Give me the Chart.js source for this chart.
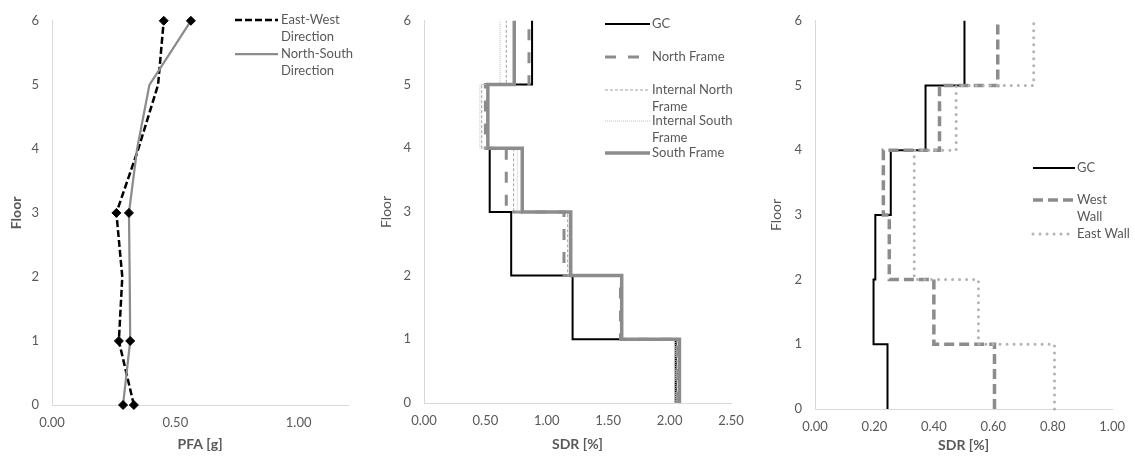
<!DOCTYPE html>
<html>
<head>
<meta charset="utf-8">
<script src="https://cdn.jsdelivr.net/npm/chart.js@4.4.1/dist/chart.umd.min.js"></script>
<style>
  html, body { margin: 0; padding: 0; background: #fff; }
  #wrap { position: relative; width: 1135px; height: 456px; overflow: hidden; background: #fff; }
  canvas { position: absolute; top: 0; }
</style>
</head>
<body>
<div id="wrap">
  <canvas id="c1" width="370" height="456" style="left:0px"></canvas>
  <canvas id="c2" width="390" height="456" style="left:370px"></canvas>
  <canvas id="c3" width="375" height="456" style="left:760px"></canvas>
</div>
<script>
// ---------- DATA ----------
const floors = [0, 1, 2, 3, 4, 5, 6];
const floorTicks = [0, 1, 2, 3, 4, 5, 6];

// Panel 1: peak floor acceleration [g]
const pfaEastWest   = [0.332, 0.271, 0.285, 0.261, 0.35, 0.43, 0.453];
const pfaNorthSouth = [0.288, 0.317, 0.315, 0.312, 0.345, 0.395, 0.563];
const pfaMarkerFloors = [0, 1, 3, 6];
const pfaTicks = [0, 0.5, 1.0];
const pfaLabels = [['East-West', 'Direction'], ['North-South', 'Direction']];

// Panel 2: story drift ratio [%] per story (stories 1..6)
const stories = [1, 2, 3, 4, 5, 6];
const sdrGC            = [2.05, 1.21, 0.71, 0.535, 0.52, 0.88];
const sdrNorthFrame    = [2.06, 1.60, 1.14, 0.67, 0.50, 0.855];
const sdrInternalNorth = [2.06, 1.60, 1.17, 0.73, 0.47, 0.67];
const sdrInternalSouth = [2.05, 1.60, 1.18, 0.76, 0.455, 0.62];
const sdrSouthFrame    = [2.08, 1.61, 1.195, 0.80, 0.52, 0.735];
const sdrTicks = [0, 0.5, 1.0, 1.5, 2.0, 2.5];
const sdrLabels = [['GC'], ['North Frame'], ['Internal North', 'Frame'], ['Internal South', 'Frame'], ['South Frame']];

// Panel 3: story drift ratio [%] walls
const wallGC   = [0.244, 0.197, 0.203, 0.255, 0.372, 0.503];
const wallWest = [0.604, 0.40, 0.25, 0.23, 0.419, 0.615];
const wallEast = [0.806, 0.55, 0.334, 0.334, 0.475, 0.736];
const wallTicks = [0, 0.2, 0.4, 0.6, 0.8, 1.0];
const wallLabels = [['GC'], ['West', 'Wall'], ['East Wall']];

// ---------- HELPERS ----------
const FAMILY = "Lato, 'Open Sans', 'Liberation Sans', sans-serif";
Chart.defaults.font.family = FAMILY;
Chart.defaults.font.size = 13;
Chart.defaults.color = '#595959';

const GRAY_TXT = '#595959';
const AXIS = '#d9d9d9';

function profile(values, ys) {
  return ys.map((y, i) => ({ x: values[i], y: y }));
}
// step profile: each story value spans from floor (s-1) to floor s
function stepProfile(values) {
  const pts = [];
  stories.forEach((s, i) => {
    pts.push({ x: values[i], y: s - 1 });
    pts.push({ x: values[i], y: s });
  });
  return pts;
}

function makeLegend(cfg) {
  return {
    id: 'sideLegend',
    afterDraw(chart) {
      const ctx = chart.ctx;
      ctx.save();
      cfg.items.forEach((it, idx) => {
        const ds = chart.data.datasets[idx];
        ctx.beginPath();
        ctx.strokeStyle = ds.borderColor;
        ctx.lineWidth = ds.borderWidth;
        ctx.setLineDash(ds.borderDash || []);
        ctx.lineCap = ds.borderCapStyle || 'butt';
        ctx.moveTo(cfg.x0, it.y);
        ctx.lineTo(cfg.x1, it.y);
        ctx.stroke();
        ctx.setLineDash([]);
        ctx.fillStyle = GRAY_TXT;
        ctx.font = '13px ' + FAMILY;
        ctx.textBaseline = 'middle';
        ctx.textAlign = 'left';
        it.text.forEach((t, k) => ctx.fillText(t, cfg.tx, it.y + k * cfg.lh));
      });
      ctx.restore();
    }
  };
}

function makeChart(id, datasets, o) {
  return new Chart(document.getElementById(id), {
    type: 'scatter',
    data: { datasets: datasets },
    options: {
      responsive: false,
      animation: false,
      events: [],
      layout: { padding: { left: 0, top: o.top, right: o.right, bottom: 0 } },
      plugins: { legend: { display: false }, tooltip: { enabled: false } },
      scales: {
        x: {
          type: 'linear', min: o.xmin, max: o.xmax,
          afterFit: s => { s.height = 456 - o.bottom; },
          afterBuildTicks: s => { s.ticks = o.xticks.map(v => ({ value: v })); },
          grid: { display: false, drawTicks: false },
          border: { display: true, color: AXIS, width: 1 },
          ticks: { padding: 10, color: GRAY_TXT, font: { size: 13 }, callback: v => Number(v).toFixed(2) },
          title: { display: true, text: o.xtitle, color: GRAY_TXT, font: { size: 14, weight: 'bold' }, padding: { top: 0, bottom: o.xtpad } }
        },
        y: {
          type: 'linear', min: 0, max: 6,
          afterFit: s => { s.width = o.left; },
          afterBuildTicks: s => { s.ticks = floorTicks.map(v => ({ value: v })); },
          grid: { display: false, drawTicks: false },
          border: { display: true, color: AXIS, width: 1 },
          ticks: { padding: 13, color: GRAY_TXT, font: { size: 13 } },
          title: { display: true, text: 'Floor', color: GRAY_TXT, font: { size: 14, weight: o.ytWeight }, padding: { top: 8, bottom: 0 } }
        }
      }
    },
    plugins: [makeLegend(o.legend)]
  });
}

// ---------- PANEL 1 ----------
const markerR = floors.map(f => pfaMarkerFloors.includes(f) ? 4.5 : 0);
makeChart('c1', [
  {
    data: profile(pfaEastWest, floors), showLine: true, order: 0, clip: false,
    borderColor: '#000000', borderWidth: 2.5, borderDash: [7, 3],
    pointStyle: 'rectRot', pointRadius: markerR, pointBackgroundColor: '#000', pointBorderColor: '#000', pointBorderWidth: 1
  },
  {
    data: profile(pfaNorthSouth, floors), showLine: true, order: -1, clip: false,
    borderColor: '#8c8c8c', borderWidth: 2.25,
    pointStyle: 'rectRot', pointRadius: markerR, pointBackgroundColor: '#000', pointBorderColor: '#000', pointBorderWidth: 1
  }
], {
  top: 13, right: 22, bottom: 405, left: 52, xmin: 0, xmax: 1.2, xticks: pfaTicks,
  xtitle: 'PFA [g]', xtpad: 3, ytWeight: 'bold',
  legend: { x0: 235, x1: 278, tx: 281, lh: 17, items: [
    { y: 20, text: pfaLabels[0] }, { y: 54, text: pfaLabels[1] } ] }
});

// ---------- PANEL 2 ----------
makeChart('c2', [
  { data: stepProfile(sdrGC), showLine: true, order: 0, clip: false, pointRadius: 0,
    borderColor: '#000000', borderWidth: 2 },
  { data: stepProfile(sdrNorthFrame), showLine: true, order: -1, clip: false, pointRadius: 0,
    borderColor: '#8c8c8c', borderWidth: 3, borderDash: [11, 12] },
  { data: stepProfile(sdrInternalNorth), showLine: true, order: -2, clip: false, pointRadius: 0,
    borderColor: '#a0a0a0', borderWidth: 1, borderDash: [3, 2] },
  { data: stepProfile(sdrInternalSouth), showLine: true, order: -3, clip: false, pointRadius: 0,
    borderColor: '#bfbfbf', borderWidth: 1, borderDash: [1, 1] },
  { data: stepProfile(sdrSouthFrame), showLine: true, order: -4, clip: false, pointRadius: 0,
    borderColor: '#8c8c8c', borderWidth: 3.5 }
], {
  top: 17, right: 29, bottom: 403, left: 54, xmin: 0, xmax: 2.5, xticks: sdrTicks,
  xtitle: 'SDR [%]', xtpad: 3, ytWeight: 'normal',
  legend: { x0: 235, x1: 280, tx: 282, lh: 17, items: [
    { y: 24, text: sdrLabels[0] }, { y: 57, text: sdrLabels[1] }, { y: 90, text: sdrLabels[2] },
    { y: 121, text: sdrLabels[3] }, { y: 153, text: sdrLabels[4] } ] }
});

// ---------- PANEL 3 ----------
makeChart('c3', [
  { data: stepProfile(wallGC), showLine: true, order: 0, clip: false, pointRadius: 0,
    borderColor: '#000000', borderWidth: 2 },
  { data: stepProfile(wallWest), showLine: true, order: -1, clip: false, pointRadius: 0,
    borderColor: '#8c8c8c', borderWidth: 3.5, borderDash: [10, 5] },
  { data: stepProfile(wallEast), showLine: true, order: -2, clip: false, pointRadius: 0,
    borderColor: '#b3b3b3', borderWidth: 3, borderDash: [0.01, 7], borderCapStyle: 'round' }
], {
  top: 17, right: 15, bottom: 409, left: 55, xmin: 0, xmax: 1.0, xticks: wallTicks,
  xtitle: 'SDR [%]', xtpad: 2, ytWeight: 'normal',
  legend: { x0: 273, x1: 315, tx: 317, lh: 17, items: [
    { y: 168, text: wallLabels[0] }, { y: 200, text: wallLabels[1] }, { y: 234, text: wallLabels[2] } ] }
});
</script>
</body>
</html>
